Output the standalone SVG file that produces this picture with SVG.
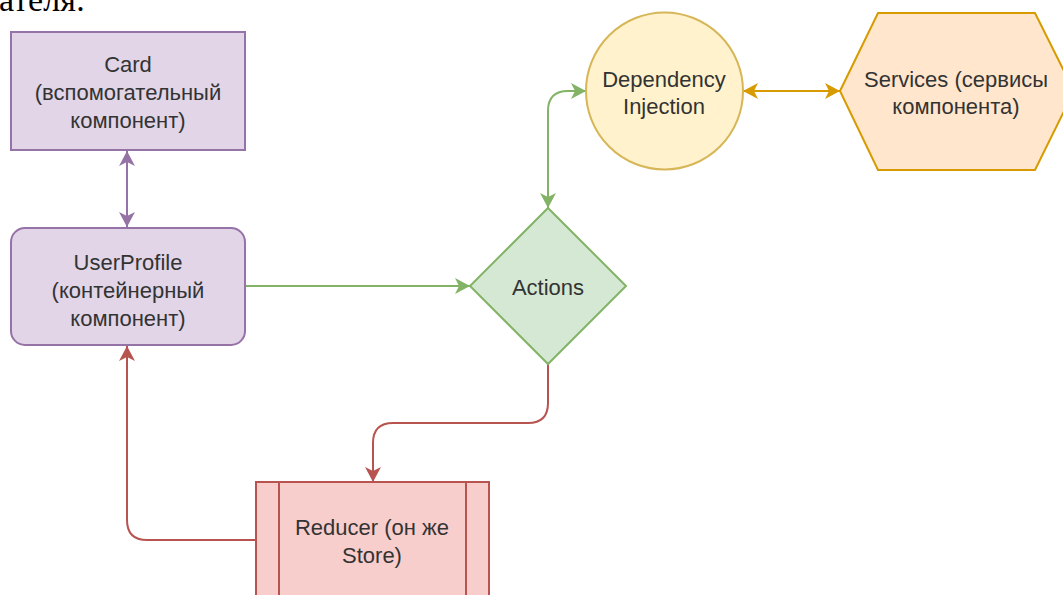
<svg xmlns="http://www.w3.org/2000/svg" width="1063" height="595" viewBox="0 0 1063 595">
  <style>
    .lbl { font-family: "Liberation Sans", Arial, sans-serif; font-size: 22px; fill: #333333; text-anchor: middle; }
    .doc { font-family: "Liberation Serif", "Times New Roman", serif; font-size: 34px; fill: #000000; }
    .edge { fill: none; stroke-width: 2; }
  </style>
  <defs>
    <marker id="arr-purple" viewBox="-15 -9 17 18" refX="0" refY="0" markerWidth="17" markerHeight="18" markerUnits="userSpaceOnUse" orient="auto-start-reverse">
      <path d="M0,0 L-15,-8 L-11,0 L-15,8 Z" fill="#9673a6"/>
    </marker>
    <marker id="arr-green" viewBox="-15 -9 17 18" refX="0" refY="0" markerWidth="17" markerHeight="18" markerUnits="userSpaceOnUse" orient="auto-start-reverse">
      <path d="M0,0 L-15,-8 L-11,0 L-15,8 Z" fill="#82b366"/>
    </marker>
    <marker id="arr-orange" viewBox="-15 -9 17 18" refX="0" refY="0" markerWidth="17" markerHeight="18" markerUnits="userSpaceOnUse" orient="auto-start-reverse">
      <path d="M0,0 L-15,-8 L-11,0 L-15,8 Z" fill="#d79b00"/>
    </marker>
    <marker id="arr-red" viewBox="-15 -9 17 18" refX="0" refY="0" markerWidth="17" markerHeight="18" markerUnits="userSpaceOnUse" orient="auto-start-reverse">
      <path d="M0,0 L-15,-8 L-11,0 L-15,8 Z" fill="#b85450"/>
    </marker>
  </defs>

  <rect x="0" y="0" width="1063" height="595" fill="#ffffff"/>

  <!-- tail of the surrounding document sentence -->
  <text class="doc" x="-1" y="11">ателя:</text>

  <!-- connectors -->
  <g id="connectors">
    <path class="edge" stroke="#9673a6" d="M127,151 L127,227" marker-start="url(#arr-purple)" marker-end="url(#arr-purple)"/>
    <path class="edge" stroke="#82b366" d="M245,286 L470,286" marker-end="url(#arr-green)"/>
    <path class="edge" stroke="#82b366" d="M548,208 L548,111 Q548,91 568,91 L586,91" marker-start="url(#arr-green)" marker-end="url(#arr-green)"/>
    <path class="edge" stroke="#d79b00" d="M743,91 L840,91" marker-start="url(#arr-orange)" marker-end="url(#arr-orange)"/>
    <path class="edge" stroke="#b85450" d="M548,364 L548,403 Q548,423 528,423 L393,423 Q373,423 373,443 L373,482" marker-end="url(#arr-red)"/>
    <path class="edge" stroke="#b85450" d="M256,540 L147,540 Q127,540 127,520 L127,346" marker-end="url(#arr-red)"/>
  </g>

  <!-- Card -->
  <g id="card">
    <rect x="11" y="32" width="234" height="118" fill="#e1d5e7" stroke="#9673a6" stroke-width="2"/>
    <text class="lbl" x="128" y="72">Card</text>
    <text class="lbl" x="128" y="100">(вспомогательный</text>
    <text class="lbl" x="128" y="128">компонент)</text>
  </g>

  <!-- UserProfile -->
  <g id="user-profile">
    <rect x="11" y="228" width="234" height="117" rx="14" ry="14" fill="#e1d5e7" stroke="#9673a6" stroke-width="2"/>
    <text class="lbl" x="128" y="270">UserProfile</text>
    <text class="lbl" x="128" y="298">(контейнерный</text>
    <text class="lbl" x="128" y="326">компонент)</text>
  </g>

  <!-- Actions -->
  <g id="actions">
    <polygon points="548,208 626,286 548,364 470,286" fill="#d5e8d4" stroke="#82b366" stroke-width="2"/>
    <text class="lbl" x="548" y="295">Actions</text>
  </g>

  <!-- Dependency Injection -->
  <g id="dependency-injection">
    <circle cx="664.5" cy="91" r="78.5" fill="#fff2cc" stroke="#d6b656" stroke-width="2"/>
    <text class="lbl" x="664" y="87">Dependency</text>
    <text class="lbl" x="664" y="114">Injection</text>
  </g>

  <!-- Services -->
  <g id="services">
    <polygon points="840,91 878,13 1035,13 1074,91 1035,170 878,170" fill="#ffe6cc" stroke="#d79b00" stroke-width="2"/>
    <text class="lbl" x="956" y="87">Services (сервисы</text>
    <text class="lbl" x="956" y="114">компонента)</text>
  </g>

  <!-- Reducer -->
  <g id="reducer">
    <rect x="256" y="482" width="233" height="125" fill="#f8cecc" stroke="#b85450" stroke-width="2"/>
    <line x1="279" y1="482" x2="279" y2="607" stroke="#b85450" stroke-width="2"/>
    <line x1="466" y1="482" x2="466" y2="607" stroke="#b85450" stroke-width="2"/>
    <text class="lbl" x="372" y="535">Reducer (он же</text>
    <text class="lbl" x="372" y="563">Store)</text>
  </g>
</svg>
